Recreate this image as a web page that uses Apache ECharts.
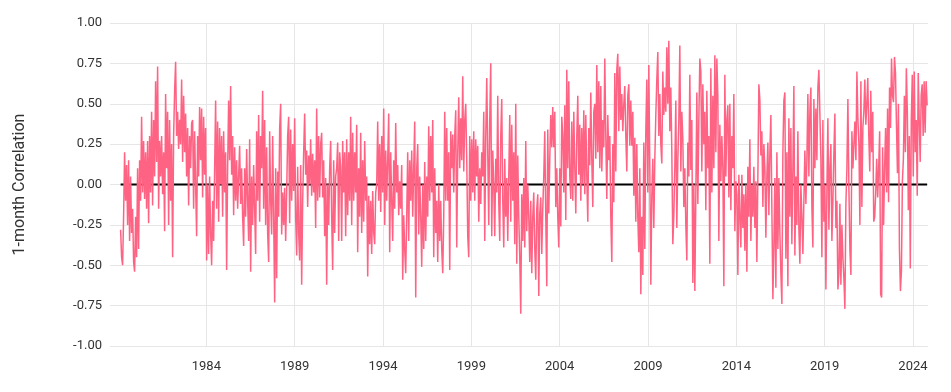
<!DOCTYPE html>
<html><head><meta charset="utf-8">
<script src="https://cdn.jsdelivr.net/npm/echarts@6/dist/echarts.min.js"></script>
<style>html,body{margin:0;padding:0;background:#fff}#c{width:951px;height:392px}</style>
</head><body><div id="c"></div>
<script>
// Tick labels
const xTickYears = [1984, 1989, 1994, 1999, 2004, 2009, 2014, 2019, 2024];
const yTickValues = [-1, -0.75, -0.5, -0.25, 0, 0.25, 0.5, 0.75, 1];

// 1-month correlation (about one value every 3 weeks), by period
const segStart = [1979.147, 1983.224, 1987.415, 1991.605, 1995.796, 1999.986, 2004.177, 2008.367, 2012.558, 2016.748, 2020.939];
const segEnd   = [1983.168, 1987.358, 1991.548, 1995.739, 1999.930, 2004.120, 2008.311, 2012.501, 2016.692, 2020.882, 2024.800];

const corr1979 = [-0.28,-0.45,-0.50,-0.20,0.20,-0.10,0.12,-0.25,0.15,-0.35,
0.05,-0.30,-0.15,-0.48,-0.54,-0.20,-0.45,0.10,-0.40,0.15,
-0.10,0.42,-0.05,0.27,-0.09,0.20,-0.15,0.27,-0.24,0.30,
-0.05,0.45,-0.13,0.40,0.05,0.64,0.14,0.73,-0.15,0.27,
0.05,0.30,-0.06,0.20,-0.29,0.56,0.10,0.45,-0.25,0.40,
-0.10,0.25,-0.45,0.30,0.58,0.76,0.30,0.45,0.22,0.40,
0.25,0.65,0.14,0.55,0.20,0.44,0.05,0.35,-0.13,0.30,
0.10,0.38];
const corr1983 = [0.40,-0.15,0.33,0.00,-0.32,0.30,0.05,0.48,0.15,0.47,
-0.08,0.42,0.06,0.35,-0.47,0.00,-0.43,0.05,-0.30,-0.50,
-0.10,-0.35,0.10,0.52,-0.15,0.39,-0.23,0.35,0.00,0.30,
-0.20,0.33,-0.05,0.20,-0.53,0.10,0.52,0.15,0.61,0.06,
0.30,-0.19,0.23,-0.10,0.15,-0.15,0.05,0.24,-0.12,0.10,
-0.20,-0.38,0.10,-0.20,0.22,-0.10,-0.35,0.28,-0.54,0.05,
-0.25,0.12,-0.15,-0.43,0.33,-0.10,0.43,-0.23,0.30,0.10,
0.58,-0.15,0.40,-0.25];
const corr1987 = [0.23,-0.30,-0.48,0.33,-0.10,-0.31,0.30,-0.20,-0.73,0.10,
-0.58,0.08,-0.20,0.35,0.50,-0.31,-0.05,-0.25,-0.02,-0.35,
-0.05,0.30,0.42,-0.24,0.34,-0.10,0.25,-0.04,0.41,-0.20,
-0.44,0.11,-0.30,-0.47,0.12,-0.62,-0.10,0.20,0.44,0.06,
0.21,-0.14,0.18,0.00,0.28,-0.07,0.19,-0.05,0.15,-0.27,
0.47,-0.10,0.30,-0.08,0.25,0.32,-0.08,0.15,-0.32,0.04,
-0.62,0.00,-0.25,0.10,0.27,-0.20,-0.53,0.15,-0.30,0.05,
0.10,0.26,-0.35,0.20];
const corr1991 = [0.10,-0.35,0.27,-0.05,0.20,-0.32,0.28,-0.19,0.20,-0.10,
0.42,-0.25,0.32,-0.10,0.20,-0.05,0.37,-0.42,0.10,-0.20,
0.32,-0.30,0.15,-0.23,0.27,-0.10,0.05,-0.57,-0.07,-0.37,
-0.10,-0.43,-0.04,-0.30,-0.37,-0.05,0.00,0.39,-0.10,0.25,
-0.17,0.30,-0.05,0.47,-0.25,0.21,-0.10,0.15,0.44,-0.42,
0.20,-0.10,-0.35,0.15,-0.15,0.38,-0.05,0.12,-0.19,0.02,
-0.15,0.12,-0.59,-0.19,-0.40,-0.55,-0.19,0.20,-0.35,0.15,
-0.10,0.21,-0.20,0.10];
const corr1995 = [0.39,-0.70,0.10,0.25,-0.31,0.05,-0.20,-0.51,0.00,-0.40,
0.14,-0.35,0.05,-0.20,0.36,-0.10,0.30,-0.05,0.40,-0.45,
0.10,-0.30,-0.10,-0.48,0.00,-0.35,-0.10,-0.40,-0.55,-0.20,
0.45,-0.10,0.35,-0.10,0.20,-0.53,0.33,0.10,0.31,-0.05,
0.30,0.46,-0.39,0.20,0.54,0.10,0.41,0.15,0.67,0.08,
0.40,0.50,0.15,-0.32,-0.45,0.30,-0.10,0.28,-0.05,0.33,
-0.10,0.28,0.05,0.24,-0.23,0.10,-0.12,0.20,0.05,0.45,
-0.35,0.30,0.66,0.20];
const corr1999 = [-0.25,0.40,0.75,-0.32,0.21,0.00,-0.32,0.16,-0.05,0.55,
-0.11,-0.35,0.30,0.53,-0.10,-0.39,0.16,-0.20,0.04,-0.35,
0.05,0.43,-0.23,0.37,-0.10,0.20,-0.37,0.50,-0.49,0.18,
-0.20,-0.45,-0.80,-0.06,-0.35,0.04,-0.39,0.27,-0.29,0.00,
-0.20,-0.48,-0.10,-0.55,-0.20,-0.05,-0.40,-0.59,-0.15,-0.06,
-0.69,-0.18,-0.08,-0.43,-0.15,0.05,0.33,-0.20,-0.63,0.34,
-0.18,0.16,0.43,0.23,0.48,0.23,0.45,-0.14,0.10,-0.20,
-0.39,0.10,-0.26,0.42];
const corr2004 = [0.30,-0.05,0.49,-0.22,0.71,0.10,0.64,0.05,-0.09,0.39,
-0.10,0.45,0.10,-0.18,0.30,0.55,0.06,0.37,-0.10,0.35,
0.00,0.46,-0.06,0.43,0.05,-0.23,0.35,0.12,0.57,0.15,
-0.14,0.45,0.50,0.16,0.74,0.20,0.64,0.10,0.61,0.08,
0.40,0.23,0.78,0.30,-0.09,0.43,0.15,0.30,-0.20,-0.48,
0.25,-0.11,0.69,0.08,0.71,0.81,0.33,0.73,0.40,0.56,
0.33,0.50,0.61,0.30,0.08,0.55,0.62,0.24,0.52,0.24,
0.45,-0.07,0.29,-0.23];
const corr2008 = [0.25,-0.20,-0.42,0.10,-0.68,-0.20,-0.56,0.26,-0.40,0.33,
0.65,-0.05,0.74,0.10,-0.62,-0.07,0.16,-0.27,0.16,0.43,
0.65,0.82,0.30,0.56,0.25,0.13,0.70,0.43,0.60,0.45,
0.85,0.50,0.89,0.33,0.60,0.20,-0.37,-0.19,0.11,0.52,
-0.27,0.15,0.40,0.86,0.08,0.45,0.28,-0.14,0.10,-0.25,
-0.47,0.26,0.05,0.68,0.09,0.40,-0.61,0.00,-0.66,-0.06,
0.57,-0.12,0.40,0.78,0.70,0.08,0.62,0.25,0.45,-0.16,
0.58,0.10,0.30,-0.49];
const corr2012 = [0.72,-0.05,0.55,0.10,0.80,0.20,0.78,0.54,-0.35,0.37,
0.02,0.30,0.10,-0.63,0.68,0.05,0.40,0.49,-0.08,0.50,
-0.16,0.30,0.10,0.56,-0.29,0.02,-0.06,-0.56,0.06,-0.20,
-0.39,0.06,-0.27,-0.06,-0.41,0.00,-0.54,0.11,-0.20,0.28,
-0.35,0.00,-0.20,0.11,-0.27,0.02,-0.48,0.05,0.62,0.52,
0.18,0.33,-0.14,0.25,0.10,-0.33,0.05,0.26,-0.19,0.20,
0.43,-0.15,-0.71,-0.39,0.04,-0.64,0.20,-0.40,0.04,-0.30,
-0.55,-0.74,0.20,0.52];
const corr2016 = [0.57,-0.46,0.20,-0.63,0.41,-0.20,0.35,-0.37,0.10,0.61,
-0.44,0.05,-0.25,0.33,-0.27,-0.49,0.00,-0.20,-0.43,-0.10,
0.21,-0.12,0.15,0.56,0.05,0.45,0.60,-0.14,-0.39,0.53,
0.10,0.47,0.15,0.60,0.71,0.70,0.16,-0.45,0.40,-0.23,
0.00,-0.65,-0.05,0.41,-0.28,0.10,0.25,-0.35,-0.10,0.20,
0.44,-0.27,-0.10,-0.65,-0.55,-0.12,-0.62,-0.25,-0.45,-0.58,
-0.77,-0.12,0.10,0.53,-0.02,-0.40,-0.56,0.33,0.10,0.25,
0.39,0.15,0.70,0.40];
const corr2020 = [0.25,-0.25,0.64,-0.14,0.35,0.45,0.65,0.37,0.50,0.66,
0.30,0.08,0.58,0.20,0.45,-0.23,-0.20,-0.05,0.16,-0.08,
0.10,0.33,-0.68,-0.70,0.23,-0.25,0.10,0.35,-0.05,0.47,
-0.11,0.60,0.35,0.78,0.55,0.51,0.79,0.69,0.37,0.07,
0.50,-0.40,-0.66,-0.54,0.02,0.16,0.55,0.20,0.72,0.45,
-0.16,0.30,-0.52,0.40,0.68,0.05,0.70,0.20,0.40,-0.07,
0.69,0.40,0.14,0.55,0.62,0.30,0.64,0.32,0.64,0.49];

const segments = [corr1979, corr1983, corr1987, corr1991, corr1995, corr1999, corr2004, corr2008, corr2012, corr2016, corr2020];

const points = [];
segments.forEach(function (vals, k) {
  const step = (segEnd[k] - segStart[k]) / (vals.length - 1);
  vals.forEach(function (v, i) { points.push([segStart[k] + i * step, v]); });
});
const zeroLine = [[points[0][0], 0], [points[points.length - 1][0], 0]];

const chart = echarts.init(document.getElementById('c'), null, { renderer: 'canvas' });
const gridColor = '#e6e6e6';
chart.setOption({
  animation: false,
  backgroundColor: '#ffffff',
  textStyle: { fontFamily: 'Roboto' },
  grid: { left: 118, right: 23, top: 23, bottom: 46 },
  xAxis: {
    type: 'value', min: 1979, max: 2024.85,
    axisLine: { show: false },
    axisTick: { show: true, length: 8, customValues: xTickYears, lineStyle: { color: gridColor, width: 1 } },
    axisLabel: { customValues: xTickYears, formatter: function (v) { return String(Math.round(v)); }, color: '#333', fontSize: 13, margin: 14 },
    splitLine: { show: true, lineStyle: { color: gridColor, width: 1 } }
  },
  yAxis: {
    type: 'value', min: -1, max: 1, interval: 0.25,
    name: '1-month Correlation', nameLocation: 'middle', nameGap: 90,
    nameTextStyle: { fontSize: 16, color: '#333', fontFamily: 'Roboto' },
    axisLine: { show: false },
    axisTick: { show: true, length: 8, lineStyle: { color: gridColor, width: 1 } },
    axisLabel: { formatter: function (v) { return v.toFixed(2); }, color: '#333', fontSize: 13, margin: 16 },
    splitLine: { show: true, lineStyle: { color: gridColor, width: 1 } }
  },
  series: [
    { type: 'line', data: zeroLine, showSymbol: false, silent: true, z: 1,
      lineStyle: { color: '#000000', width: 2 } },
    { type: 'line', data: points, showSymbol: false, sampling: 'none', z: 2,
      lineStyle: { color: '#ff6384', width: 1.5 } }
  ]
});
</script>
</body></html>
